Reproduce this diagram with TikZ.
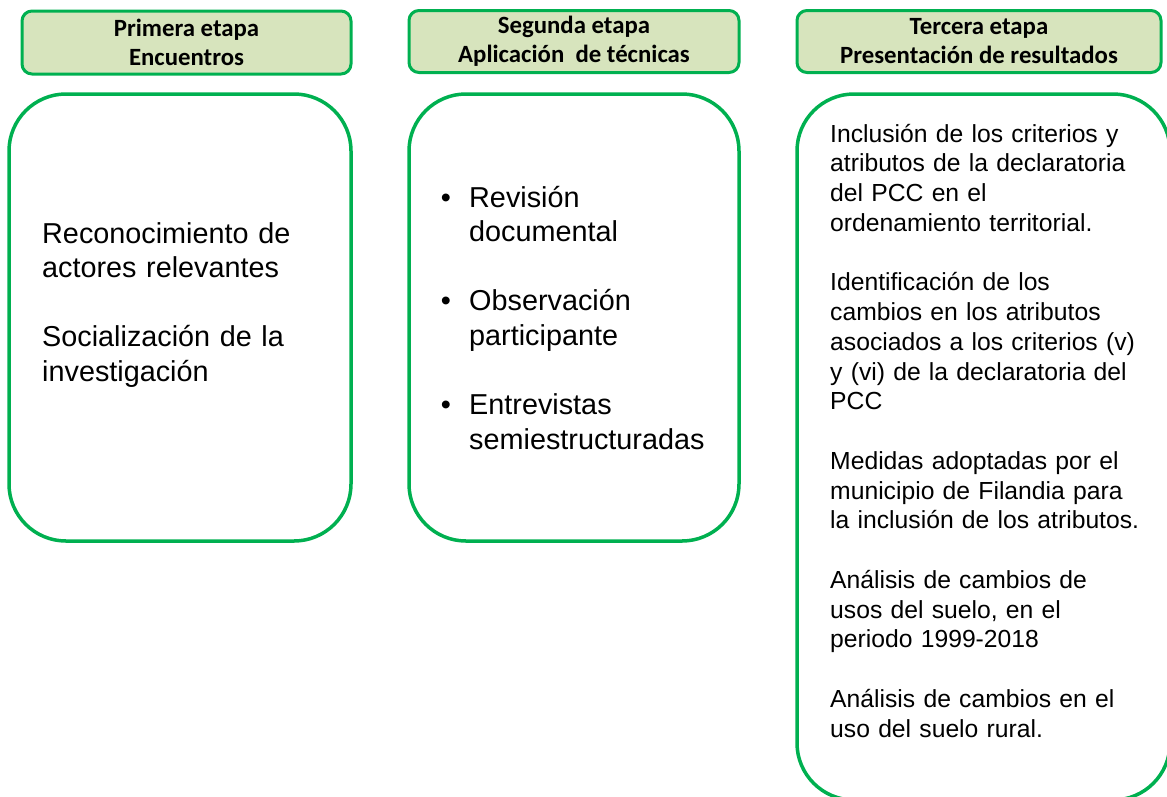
\documentclass[tikz,border=0pt]{standalone}
\usepackage{fontspec}
\setmainfont{Liberation Sans}
\newfontfamily\hdrfont{Carlito}
\definecolor{edgegreen}{HTML}{00B050}
\definecolor{hdrfill}{HTML}{D7E4BD}
\tikzset{
  hdr/.style={draw=edgegreen, fill=hdrfill, line width=3pt, rounded corners=10pt,
    align=center, inner sep=0pt, font=\hdrfont\bfseries\fontsize{24.8}{29}\selectfont},
  bigbox/.style={draw=edgegreen, line width=3.5pt, rounded corners=57pt, inner sep=0pt},
  bodytext/.style={anchor=base west, inner sep=0pt, text width=340pt, align=left,
    font=\fontsize{28.8}{34.6}\selectfont},
  smalltext/.style={anchor=base west, inner sep=0pt, text width=330pt, align=left,
    font=\fontsize{24.7}{29.75}\selectfont},
  bul/.style={anchor=base, inner sep=0pt, font=\fontsize{28.8}{34.6}\selectfont}
}
\begin{document}
\begin{tikzpicture}[x=1pt,y=-1pt]
\useasboundingbox (0,0) rectangle (1167,796);
\clip (0,0) rectangle (1167,796);
% headers
\node[hdr, minimum width=329pt, minimum height=63pt] (h1) at (186.5,42.5) {Primera etapa\\Encuentros};
\node[hdr, minimum width=330pt, minimum height=62pt] (h2) at (574,41.5) {Segunda etapa\\Aplicación\ \ de técnicas};
\node[hdr, minimum width=364pt, minimum height=62pt] (h3) at (979,41.5) {Tercera etapa\\Presentación de resultados};
% big boxes
\node[bigbox, minimum width=342pt, minimum height=447pt] (b1) at (180,317.5) {};
\node[bigbox, minimum width=330pt, minimum height=447pt] (b2) at (574,317.5) {};
\node[bigbox, minimum width=373pt, minimum height=706pt] (b3) at (983.5,447) {};
% box 1 text
\node[bodytext] (t11) at (42,243) {Reconocimiento de\\actores relevantes};
\node[bodytext] (t12) at (42,346.8) {Socialización de la\\investigación};
% box 2 text
\node[bul] (d1) at (446,207) {•};
\node[bodytext] (t21) at (469,207) {Revisión\\documental};
\node[bul] (d2) at (446,310.8) {•};
\node[bodytext] (t22) at (469,310.8) {Observación\\participante};
\node[bul] (d3) at (446,414.6) {•};
\node[bodytext] (t23) at (469,414.6) {Entrevistas\\semiestructuradas};
% box 3 text
\node[smalltext] (t31) at (830,142) {Inclusión de los criterios y\\atributos de la declaratoria\\del PCC en el\\ordenamiento territorial.};
\node[smalltext] (t32) at (830,290.75) {Identificación de los\\cambios en los atributos\\asociados a los criterios (v)\\y (vi) de la declaratoria del\\PCC};
\node[smalltext] (t33) at (830,469.25) {Medidas adoptadas por el\\municipio de Filandia para\\la inclusión de los atributos.};
\node[smalltext] (t34) at (830,588.25) {Análisis de cambios de\\usos del suelo, en el\\periodo 1999-2018};
\node[smalltext] (t35) at (830,707.25) {Análisis de cambios en el\\uso del suelo rural.};
\end{tikzpicture}
\end{document}
